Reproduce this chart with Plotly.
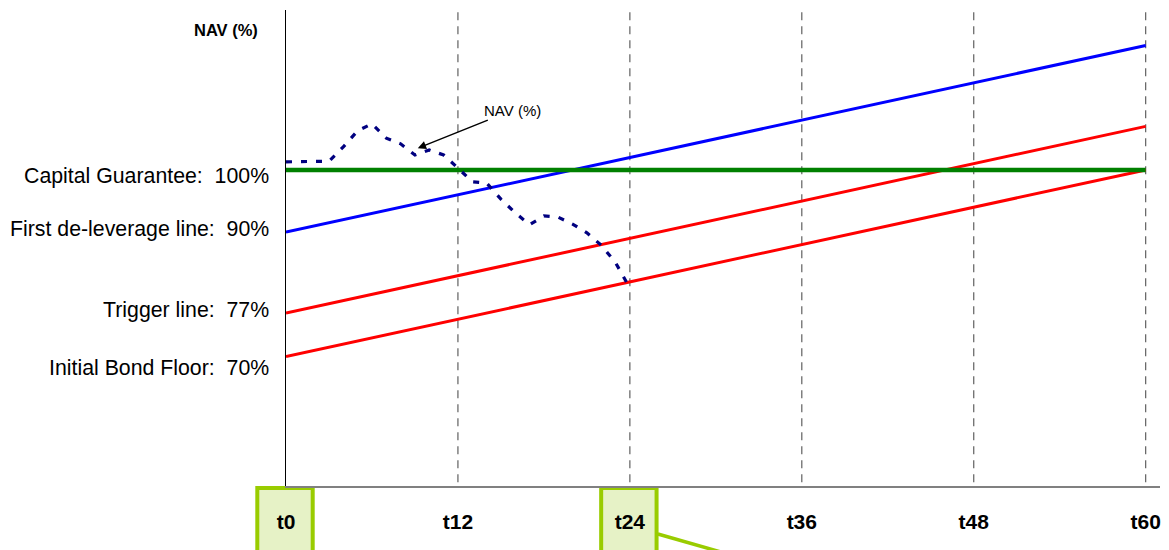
import plotly.graph_objects as go

# ---- data -------------------------------------------------------------
nav_months = list(range(25))
nav_pct = [101.3, 101.3, 101.4, 101.4, 103.7, 106.3, 107.4, 105.1, 104.2, 102.4,
           103.2, 102.4, 100.3, 98.1, 97.9, 95.3, 93.1, 91.2, 92.6, 92.4,
           91.3, 89.9, 87.9, 85.1, 81.0]

line_months = [0, 12, 24, 36, 48, 60]
bond_floor = [70, 76, 82, 88, 94, 100]
trigger_line = [77, 83, 89, 95, 101, 107]
deleverage_line = [90, 96, 102, 108, 114, 120]

guarantee_months = [0, 60]
guarantee = [100, 100]

tick_months = [0, 12, 24, 36, 48, 60]
tick_labels = ["t0", "t12", "t24", "t36", "t48", "t60"]
boxed_ticks = [0, 24]

level_labels = ["Capital Guarantee:\u00a0 100%", "First de-leverage line:\u00a0 90%",
                "Trigger line:\u00a0 77%", "Initial Bond Floor:\u00a0 70%"]
level_values = [100, 90, 77, 70]
level_shifts = [-6, 3, 3, -11]

# ---- geometry ---------------------------------------------------------
W, H = 1169, 550
ML, MR, MT, MB = 286, 9, 10, 64
PW, PH = W - ML - MR, H - MT - MB
XR = [0, 61.0]
YR = [49.2, 125.7]
FONT = "Arial, Liberation Sans, sans-serif"


def xpix(m):
    return ML + (m - XR[0]) / (XR[1] - XR[0]) * PW


def px_x(p):
    return (p - ML) / PW


def px_y(p):
    return (H - MB - p) / PH


fig = go.Figure()

fig.add_trace(go.Scatter(x=line_months, y=bond_floor, mode="lines",
                         line=dict(color="#FF0000", width=3), hoverinfo="skip"))
fig.add_trace(go.Scatter(x=line_months, y=trigger_line, mode="lines",
                         line=dict(color="#FF0000", width=3), hoverinfo="skip"))
fig.add_trace(go.Scatter(x=line_months, y=deleverage_line, mode="lines",
                         line=dict(color="#0000FF", width=3), hoverinfo="skip"))
fig.add_trace(go.Scatter(x=guarantee_months, y=guarantee, mode="lines",
                         line=dict(color="#008000", width=4.5), hoverinfo="skip"))
fig.add_trace(go.Scatter(x=nav_months, y=nav_pct, mode="lines",
                         line=dict(color="#000080", width=3.2, dash="6px,9px"),
                         hoverinfo="skip"))

shapes = []
# vertical dashed period markers
for m in tick_months[1:]:
    shapes.append(dict(type="line", xref="x", yref="paper", x0=m, x1=m, y0=0.008, y1=1,
                       line=dict(color="#606060", width=1.2, dash="8px,6px"), layer="below"))

# highlighted label boxes
for m in boxed_ticks:
    cx = xpix(m) - 1
    shapes.append(dict(type="rect", xref="paper", yref="paper",
                       x0=px_x(cx - 27.7), x1=px_x(cx + 27.7),
                       y0=px_y(488), y1=px_y(580),
                       line=dict(color="#99CC00", width=4),
                       fillcolor="#E6F2C6", layer="below"))

# callout connector from the t24 box
cx24 = xpix(24) - 1
shapes.append(dict(type="line", xref="paper", yref="paper",
                   x0=px_x(cx24 + 29), y0=px_y(534),
                   x1=px_x(cx24 + 120), y1=px_y(560),
                   line=dict(color="#99CC00", width=3.5)))

annotations = []
for txt, v, s in zip(level_labels, level_values, level_shifts):
    annotations.append(dict(text=txt, xref="paper", yref="y", x=0, y=v,
                            xanchor="right", yanchor="middle", xshift=-15, yshift=s,
                            showarrow=False, font=dict(family=FONT, size=21.3, color="#000000")))

annotations.append(dict(text="NAV (%)", xref="paper", yref="paper",
                        x=px_x(226), y=px_y(30), xanchor="center", yanchor="middle",
                        showarrow=False,
                        font=dict(family=FONT, size=16.5, color="#000000", weight="bold")))

annotations.append(dict(text="NAV (%)", x=9.2, y=103.5, xref="x", yref="y",
                        ax=95, ay=-38, showarrow=True, arrowhead=2, arrowsize=1.1,
                        arrowwidth=1.5, arrowcolor="#000000",
                        font=dict(family=FONT, size=15, color="#000000")))

fig.update_layout(
    width=W, height=H,
    margin=dict(l=ML, r=MR, t=MT, b=MB, pad=0),
    paper_bgcolor="#FFFFFF", plot_bgcolor="#FFFFFF",
    showlegend=False,
    shapes=shapes, annotations=annotations,
    xaxis=dict(range=XR, showgrid=False, zeroline=False, showline=True,
               linecolor="#808080", linewidth=2, ticks="",
               tickvals=tick_months, ticktext=tick_labels, ticklabelstandoff=16,
               tickfont=dict(family=FONT, size=21, color="#000000", weight="bold")),
    yaxis=dict(range=YR, showgrid=False, zeroline=False, showline=True,
               linecolor="#000000", linewidth=1.2, ticks="", showticklabels=False),
)

fig.write_html("out.html")
